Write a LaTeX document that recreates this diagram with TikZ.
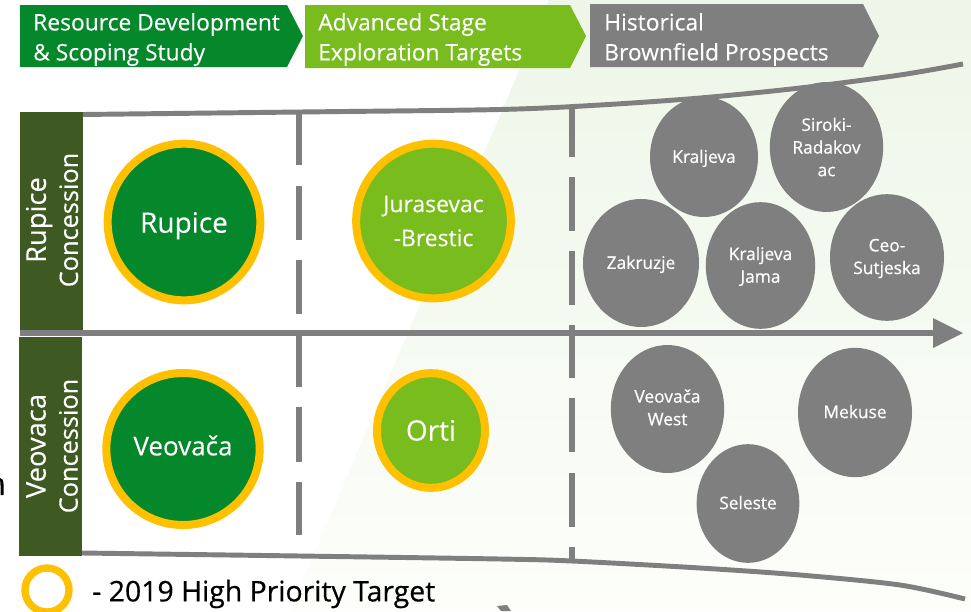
\documentclass[tikz,border=0pt]{standalone}
\usepackage{fontspec}
\setmainfont{Open Sans}[FakeBold=0.2]
\newfontfamily\semib{Open Sans}[FakeBold=0.5]
\usetikzlibrary{shadows,shapes.geometric}
\definecolor{dg}{HTML}{05872B}
\definecolor{lg}{HTML}{78BC1E}
\definecolor{gy}{HTML}{7F7F7F}
\definecolor{ol}{HTML}{3E5A22}
\definecolor{gold}{HTML}{FFC000}
\definecolor{bgt}{HTML}{EDF6E8}
\definecolor{bgb}{HTML}{FDFEFA}
\newcommand{\tsize}[2]{\fontsize{#1}{#2}\selectfont}
\newcommand{\shifted}[2]{\raisebox{-#1}[\height][\depth]{\begin{tabular}{@{}c@{}}#2\end{tabular}}}
\tikzset{
  x=0.75pt,y=-0.75pt,
  hdr/.style={font=\tsize{17.1}{22.5},text=white,align=left,anchor=west,inner sep=0pt},
  conctxt/.style={text=white,align=center,rotate=90,inner sep=0pt,font=\tsize{19}{24}},
  target/.style={ellipse,draw=gold,line width=6pt,inner sep=0pt,text=white,align=center,
    drop shadow={opacity=0.35,shadow xshift=0.4pt,shadow yshift=-1.2pt,fill=black}},
  gyell/.style={ellipse,fill=gy,draw=none,text=white,align=center,font=\semib\tsize{13}{17},inner sep=0pt},
  rail/.style={draw=gy,line width=3.7pt},
  dashline/.style={draw=gy,line width=5.2pt},
}
\begin{document}
\begin{tikzpicture}
\useasboundingbox (0,0) rectangle (971,611);
\fill[white] (0,0) rectangle (971,611);
\shade[top color=bgt,bottom color=bgb] (549,0) -- (971,0) -- (971,611) -- (290,611) -- cycle;
% headers
\fill[dg] (20,5) -- (287,5) -- (303,36) -- (287,67) -- (20,67) -- cycle;
\fill[lg] (305,5) -- (570,5) -- (586,36) -- (570,68) -- (305,68) -- cycle;
\fill[gy] (590,4) -- (863,4) -- (879,36) -- (863,67) -- (590,67) -- cycle;
\node[hdr] (h1) at (33,39.5) {Resource Development\\\& Scoping Study};
\node[hdr] (h2) at (318,39.5) {Advanced Stage\\Exploration Targets};
\node[hdr] (h3) at (604,39.5) {Historical\\Brownfield Prospects};
% rails
\draw[rail] plot[smooth,tension=0.5] coordinates {(82,114.5) (300,112) (500,109.5) (600,105) (700,98) (800,88) (900,75) (963,64)};
\draw[rail] plot[smooth,tension=0.5] coordinates {(82,553) (300,556) (500,559) (572,561) (700,568) (800,575) (900,585) (965,599)};
% dashed verticals
\foreach \x/\ya/\yb in {299/113/165,299/186/240,299/260/314,299/335/387,299/407/462,299/482/535,
   572/107/157,572/177/231,572/251/305,572/325/378,572/398/452,572/473/527,572/547/561}{
  \draw[dashline] (\x,\ya) -- (\x,\yb);
}
% axis
\draw[draw=gy,line width=4.5pt] (20,333) -- (936,333);
\fill[gy] (933,318) -- (963,333) -- (933,348) -- cycle;
% concessions
\fill[ol] (20,112) rectangle (83,329.5);
\fill[ol] (19,337) rectangle (82,556);
\node[conctxt] (c1) at (52,220) {{\tsize{20.5}{24}Rupice}\\Concession};
\node[conctxt] (c2) at (52,446) {{\tsize{20.5}{24}Veovaca}\\Concession};
% targets
\node[target,minimum width=114.5pt,minimum height=117.5pt,fill=dg,font=\tsize{21}{25}] (t1) at (184,222) {\shifted{3pt}{Rupice}};
\node[target,minimum width=115pt,minimum height=114pt,fill=dg,font=\tsize{19.5}{24}] (t2) at (183,449) {\shifted{0pt}{Veova\v{c}a}};
\node[target,minimum width=116pt,minimum height=116pt,fill=lg,font=\tsize{17.2}{25.5}] (t3) at (433.5,221) {\shifted{1pt}{Jurasevac\\-Brestic}};
\node[target,minimum width=81pt,minimum height=86pt,fill=lg,font=\tsize{21}{25}] (t4) at (431,430.5) {\shifted{2.5pt}{Orti}};
% brownfield
\node[gyell,minimum width=81pt,minimum height=90pt] (b1) at (704,157) {\shifted{1pt}{Kraljeva}};
\node[gyell,minimum width=85pt,minimum height=97.5pt] (b2) at (826.5,147) {\shifted{1.5pt}{Siroki-\\Radakov\\ac}};
\node[gyell,minimum width=87pt,minimum height=96pt] (b3) at (641,263) {\shifted{1pt}{Zakruzje}};
\node[gyell,minimum width=82pt,minimum height=95pt] (b4) at (760.5,265.5) {\shifted{1pt}{Kraljeva\\Jama}};
\node[gyell,minimum width=85.5pt,minimum height=95pt] (b5) at (887,257.5) {\shifted{0.5pt}{Ceo-\\Sutjeska}};
\node[gyell,minimum width=85pt,minimum height=96pt] (b6) at (667.5,409) {\shifted{0.3pt}{Veova\v{c}a\\West}};
\node[gyell,minimum width=85.5pt,minimum height=97pt] (b7) at (855,412.5) {\shifted{0.8pt}{Mekuse}};
\node[gyell,minimum width=77pt,minimum height=89pt] (b8) at (748,503.5) {\shifted{0.8pt}{Seleste}};
% legend
\node[ellipse,draw=gold,line width=5.5pt,fill=white,minimum width=33pt,minimum height=33pt,inner sep=0pt] (lg1) at (47,590) {};
\node[anchor=west,inner sep=0pt,text=black,font=\semib\tsize{21.3}{25}] (lg2) at (92,594) {- 2019 High Priority Target};
% cropped fragments at the page edge
\fill[black] (0,478) .. controls (2,478) and (3.5,480) .. (3.5,484) -- (3.5,495) -- (0.5,495) -- (0.5,485) .. controls (0.5,482) and (0.3,481) .. (0,481) -- cycle;
\fill[gy] (497,606) -- (507,605) -- (511,611) -- (501,611) -- cycle;
\end{tikzpicture}
\end{document}
